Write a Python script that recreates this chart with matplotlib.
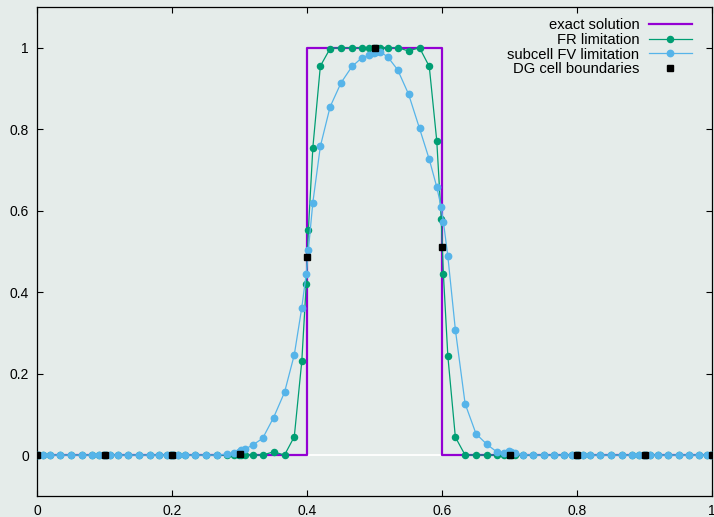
import matplotlib
matplotlib.use("Agg")
import matplotlib.pyplot as plt

plt.rcParams['font.family'] = ['Liberation Sans', 'DejaVu Sans']

# ---- data ----
cell_edges = [0.0, 0.1, 0.2, 0.3, 0.4, 0.5, 0.6, 0.7, 0.8, 0.9]
node_offsets = [0.01592, 0.08198, 0.19331, 0.33787, 0.5, 0.66213, 0.80669, 0.91802, 0.98408]
cell_width = 0.1

fr_values = [
    [0, 0, 0, 0, 0, 0, 0, 0, 0],
    [0, 0, 0, 0, 0, 0, 0, 0, 0],
    [0, 0, 0, 0, 0, 0, 0, 0, 0],
    [0, 0, 0, 0, 0.008, 0, 0.045, 0.23, 0.42],
    [0.553, 0.755, 0.955, 0.998, 1.0, 1.0, 1.0, 1.0, 1.0],
    [1.0, 1.0, 1.0, 1.0, 0.992, 1.0, 0.954, 0.771, 0.579],
    [0.445, 0.243, 0.044, 0, 0, 0, 0, 0, 0],
    [0, 0, 0, 0, 0, 0, 0, 0, 0],
    [0, 0, 0, 0, 0, 0, 0, 0, 0],
    [0, 0, 0, 0, 0, 0, 0, 0, 0],
]
fv_values = [
    [0, 0, 0, 0, 0, 0, 0, 0, 0],
    [0, 0, 0, 0, 0, 0, 0, 0, 0],
    [0, 0, 0, 0, 0, 0, 0.002, 0.006, 0.008],
    [0.012, 0.015, 0.025, 0.041, 0.092, 0.154, 0.246, 0.362, 0.445],
    [0.504, 0.62, 0.758, 0.855, 0.914, 0.954, 0.975, 0.982, 0.988],
    [0.99, 0.99, 0.977, 0.946, 0.886, 0.802, 0.726, 0.658, 0.608],
    [0.573, 0.488, 0.308, 0.126, 0.052, 0.026, 0.008, 0.006, 0.01],
    [0.008, 0.004, 0.001, 0, 0, 0, 0, 0, 0],
    [0, 0, 0, 0, 0, 0, 0, 0, 0],
    [0, 0, 0, 0, 0, 0, 0, 0, 0],
]
exact_x = [0.0, 0.4, 0.4, 0.6, 0.6, 1.0]
exact_y = [0.0, 0.0, 1.0, 1.0, 0.0, 0.0]
dg_x = [0.0, 0.1, 0.2, 0.3, 0.4, 0.5, 0.6, 0.7, 0.8, 0.9, 1.0]
dg_y = [0, 0, 0, 0.0025, 0.487, 0.999, 0.511, 0, 0, 0, 0]

xticks = [0, 0.2, 0.4, 0.6, 0.8, 1]
xticklabels = ['0', '0.2', '0.4', '0.6', '0.8', '1']
yticks = [0, 0.2, 0.4, 0.6, 0.8, 1]
yticklabels = ['0', '0.2', '0.4', '0.6', '0.8', '1']

# ---- build node coordinates ----
node_x = []
fr_y = []
fv_y = []
for c, left in enumerate(cell_edges):
    for k, off in enumerate(node_offsets):
        node_x.append(left + cell_width * off)
        fr_y.append(fr_values[c][k])
        fv_y.append(fv_values[c][k])

bg = '#e5ecea'
fig = plt.figure(figsize=(7.14, 5.17), dpi=100, facecolor=bg)
ax = fig.add_axes([0.0523, 0.0410, 0.9453, 0.9455])
ax.set_facecolor(bg)

ax.axhline(0, color='white', lw=1.3, zorder=1)

ax.plot(exact_x, exact_y, color='#9400d3', lw=1.6, label='exact solution', zorder=2)
ax.plot(node_x, fr_y, color='#009e73', lw=0.9, marker='o', ms=4.4,
        label='FR limitation', zorder=3)
ax.plot(node_x, fv_y, color='#56b4e9', lw=0.9, marker='o', ms=4.6,
        label='subcell FV limitation', zorder=4)
ax.plot(dg_x, dg_y, color='black', lw=0, marker='s', ms=5,
        label='DG cell boundaries', zorder=5)

ax.set_xlim(0, 1)
ax.set_ylim(-0.1, 1.1)
ax.set_xticks(xticks)
ax.set_xticklabels(xticklabels)
ax.set_yticks(yticks)
ax.set_yticklabels(yticklabels)
ax.tick_params(direction='in', length=4.5, width=0.8, top=True, right=True,
               labelsize=10, pad=6, colors='black')
for s in ax.spines.values():
    s.set_linewidth(0.9)
    s.set_color('black')

leg = ax.legend(loc='upper right', markerfirst=False, frameon=False,
                fontsize=10.6, handlelength=2.9, labelspacing=0.06,
                handletextpad=0.65, borderaxespad=0.5,
                bbox_to_anchor=(0.989, 1.005))

fig.savefig('out.png', dpi=100, facecolor=bg)
